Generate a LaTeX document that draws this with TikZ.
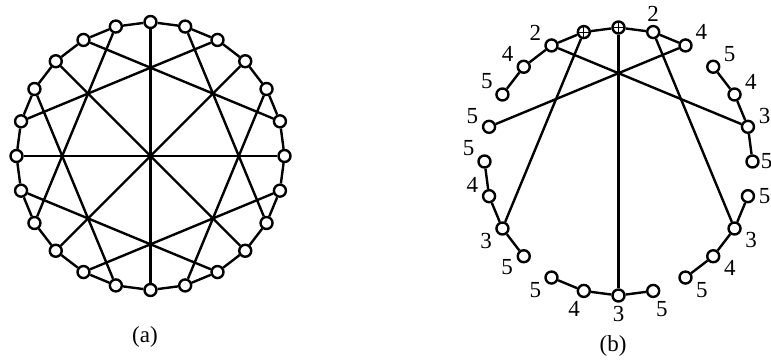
\documentclass[tikz,border=0pt]{standalone}
\usepackage{fontspec}
\setmainfont{Liberation Serif}

\begin{document}
\begin{tikzpicture}[
  font=\fontsize{23}{27}\selectfont,
  line width=2.4pt,
  vtx/.style={draw, circle, fill=white, minimum size=12pt, inner sep=0pt},
  cross/.style={vtx, path picture={\draw[line width=1pt]
      (path picture bounding box.north) -- (path picture bounding box.south)
      (path picture bounding box.west) -- (path picture bounding box.east);}},
  every label/.style={inner sep=1pt}, label distance=1.5pt]
\useasboundingbox (0,0) rectangle (771pt,361pt);
\coordinate (ca) at (150.5pt,205pt);
\coordinate (cb) at (618.5pt,199.5pt);
% (a) full graph
\foreach \i in {0,...,23}
  \node[vtx] (a\i) at ([shift={(\i*15:134pt)}]ca) {};
\foreach \i in {0,...,23} {
  \pgfmathtruncatemacro\j{mod(\i+1,24)}
  \draw (a\i) -- (a\j);
}
\foreach \i/\j in {0/12,3/15,6/18,9/21} \draw (a\i) -- (a\j);
\foreach \i/\j in {1/8,4/11,7/14,10/17,13/20,16/23,19/2,22/5} \draw (a\i) -- (a\j);
\node (capa) at (145pt,24pt) {(a)};
% (b) labelled vertices
\foreach \i/\p/\t in {1/5/3,2/18/4,3/16/5,4/25/4,5/90/2,8/160/2,9/160/4,
    10/153/5,11/175/5,12/155/5,13/173/4,14/195/3,15/185/5,16/198/5,17/258/4,
    18/270/3,19/275/5,20/345/5,21/350/4,22/350/3,23/0/5}
  \node[vtx, label={\p:\t}] (b\i) at ([shift={(\i*15:134pt)}]cb) {};
\node[vtx, label={[label distance=-1pt]0:5}] (b0) at ([shift={(0:134pt)}]cb) {};
\node[cross] (b6) at ([shift={(90:134pt)}]cb) {};
\node[cross] (b7) at ([shift={(105:134pt)}]cb) {};
\foreach \i/\j in {10/9,9/8,8/7,7/6,6/5,5/4,3/2,2/1,1/0,12/13,13/14,14/15,
    16/17,17/18,18/19,20/21,21/22,22/23}
  \draw (b\i) -- (b\j);
\foreach \i/\j in {8/1,4/11,6/18,7/14,5/22} \draw (b\i) -- (b\j);
\node (capb) at (613pt,15pt) {(b)};
\end{tikzpicture}
\end{document}
